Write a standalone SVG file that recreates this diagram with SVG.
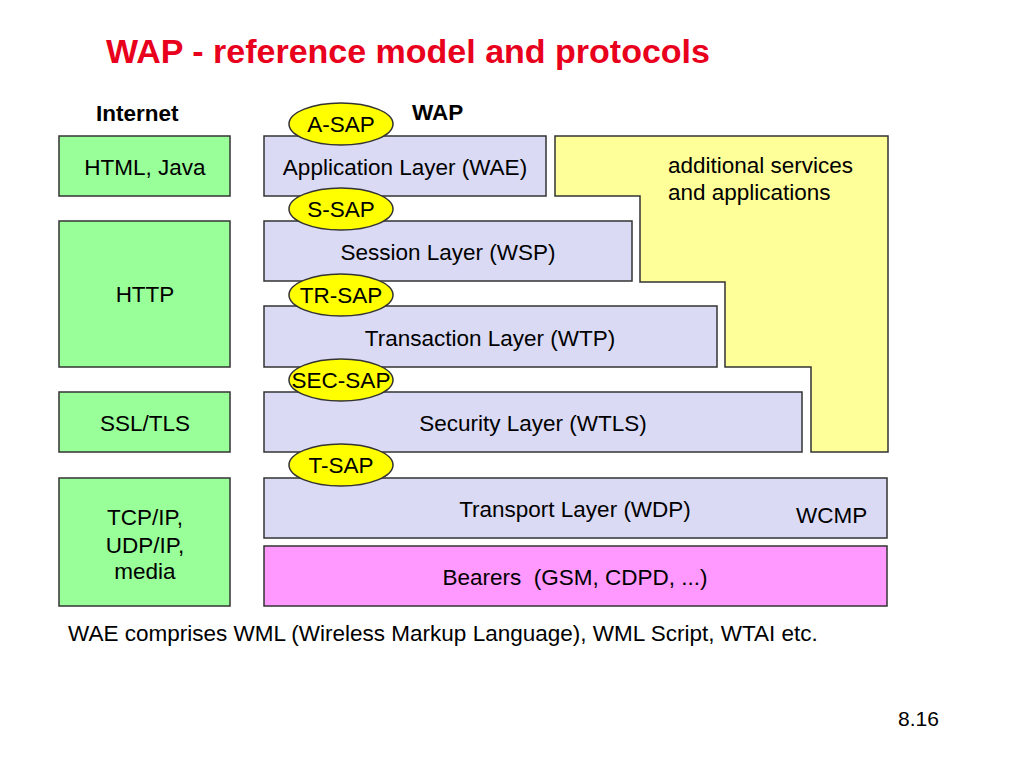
<svg xmlns="http://www.w3.org/2000/svg" width="1024" height="768" viewBox="0 0 1024 768">
<style>
text{font-family:"Liberation Sans",Arial,sans-serif;font-size:22.5px;fill:#000}
.b{font-weight:bold}
.g{fill:#99ff99;stroke:#333;stroke-width:1.5}
.l{fill:#dadaf5;stroke:#333;stroke-width:1.5}
.p{fill:#ff99ff;stroke:#333;stroke-width:1.5}
.y{fill:#ffff99;stroke:#333;stroke-width:1.5}
.e{fill:#ffff00;stroke:#333;stroke-width:1.5}
.c{text-anchor:middle}
</style>
<rect width="1024" height="768" fill="#fff"/>
<text x="106" y="63" class="b" style="font-size:34px;fill:#e8001c">WAP - reference model and protocols</text>
<text x="96" y="121" class="b">Internet</text>
<text x="412" y="120" class="b">WAP</text>
<g id="services"><path class="y" d="M555,136H888V452H811V367H725V282H640V196H555Z"/>
<text x="668" y="173">additional services</text><text x="668" y="200">and applications</text></g>
<g id="html"><rect class="g" x="59" y="136" width="171" height="60"/><text x="145" y="175" class="c">HTML, Java</text></g>
<g id="http"><rect class="g" x="59" y="221" width="171" height="146"/><text x="145" y="302" class="c">HTTP</text></g>
<g id="ssl"><rect class="g" x="59" y="392" width="171" height="60"/><text x="145" y="431" class="c">SSL/TLS</text></g>
<g id="tcp"><rect class="g" x="59" y="478" width="171" height="128"/><text x="145" y="525" class="c">TCP/IP,</text><text x="145" y="553" class="c">UDP/IP,</text><text x="145" y="579" class="c">media</text></g>
<g id="wae"><rect class="l" x="264" y="136" width="282" height="60"/><text x="405" y="175" class="c">Application Layer (WAE)</text></g>
<g id="wsp"><rect class="l" x="264" y="221" width="368" height="60"/><text x="448" y="260" class="c">Session Layer (WSP)</text></g>
<g id="wtp"><rect class="l" x="264" y="306" width="453" height="61"/><text x="490" y="346" class="c">Transaction Layer (WTP)</text></g>
<g id="wtls"><rect class="l" x="264" y="392" width="538" height="60"/><text x="533" y="431" class="c">Security Layer (WTLS)</text></g>
<g id="wdp"><rect class="l" x="264" y="478" width="623" height="60"/><text x="575" y="517" class="c">Transport Layer (WDP)</text><text x="796" y="523">WCMP</text></g>
<g id="bearers"><rect class="p" x="264" y="546" width="623" height="60"/><text x="575" y="585" class="c" style="white-space:pre">Bearers  (GSM, CDPD, ...)</text></g>
<g id="asap"><ellipse class="e" cx="341" cy="124" rx="52" ry="21"/><text x="341" y="132" class="c">A-SAP</text></g>
<g id="ssap"><ellipse class="e" cx="341" cy="209" rx="52" ry="21"/><text x="341" y="217" class="c">S-SAP</text></g>
<g id="trsap"><ellipse class="e" cx="341" cy="295" rx="52" ry="21"/><text x="341" y="303" class="c">TR-SAP</text></g>
<g id="secsap"><ellipse class="e" cx="341" cy="380" rx="52" ry="21"/><text x="341" y="388" class="c">SEC-SAP</text></g>
<g id="tsap"><ellipse class="e" cx="341" cy="465" rx="52" ry="21"/><text x="341" y="473" class="c">T-SAP</text></g>
<g id="connectors"></g>
<text x="68" y="641">WAE comprises WML (Wireless Markup Language), WML Script, WTAI etc.</text>
<text x="898" y="726" style="font-size:21px">8.16</text>
</svg>
